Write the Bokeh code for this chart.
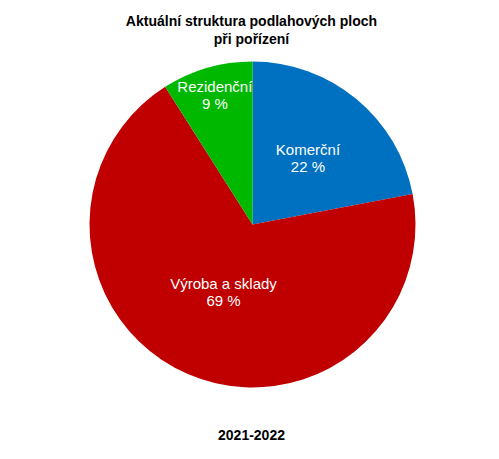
import numpy as np
from bokeh.plotting import figure
from bokeh.models import ColumnDataSource
from bokeh.core.properties import value
from bokeh.embed import file_html
from bokeh.resources import INLINE

title_lines = ["Aktuální struktura podlahových ploch", "při pořízení"]
subtitle = "2021-2022"
categories = ["Komerční", "Výroba a sklady", "Rezidenční"]
shares = [22, 69, 9]
colors = ["#0070C0", "#C00000", "#00B800"]

W, H = 483, 443
FONT = "Liberation Sans"

# layout (pixel-like data units, y up)
cx, cy, R = 252, H - 224, 163
label_r = [87, 73, 135]

fr = np.array(shares, dtype=float) / sum(shares)
start = np.pi / 2 - np.concatenate([[0], np.cumsum(fr)[:-1]]) * 2 * np.pi
end = start - fr * 2 * np.pi
mid = (start + end) / 2
lx = cx + np.array(label_r) * np.cos(mid)
ly = cy + np.array(label_r) * np.sin(mid)

src = ColumnDataSource(dict(
    start=start, end=end, color=colors, name=categories,
    pct=[f"{s} %" for s in shares], lx=lx, ly=ly,
    ly1=ly + 8, ly2=ly - 9,
))

p = figure(width=W, height=H, x_range=(0, W), y_range=(0, H),
           output_backend="svg", toolbar_location=None, min_border=0)
p.axis.visible = False
p.grid.visible = False
p.outline_line_color = None
p.background_fill_color = "white"
p.border_fill_color = "white"

p.wedge(x=cx, y=cy, radius=R, start_angle="start", end_angle="end",
        direction="clock", fill_color="color", line_color=None, source=src)

p.text(x="lx", y="ly1", text="name", source=src, text_color="white",
       text_font=value(FONT), text_font_size="15px",
       text_align="center", text_baseline="middle")
p.text(x="lx", y="ly2", text="pct", source=src, text_color="white",
       text_font=value(FONT), text_font_size="15px",
       text_align="center", text_baseline="middle")

tsrc = ColumnDataSource(dict(x=[251, 251, 251],
                             y=[H - 20, H - 38, H - 434],
                             t=title_lines + [subtitle]))
p.text(x="x", y="y", text="t", source=tsrc, text_color="black",
       text_font=value(FONT), text_font_size="14px", text_font_style="bold",
       text_align="center", text_baseline="middle")

open("out.html", "w").write(file_html(p, INLINE))
